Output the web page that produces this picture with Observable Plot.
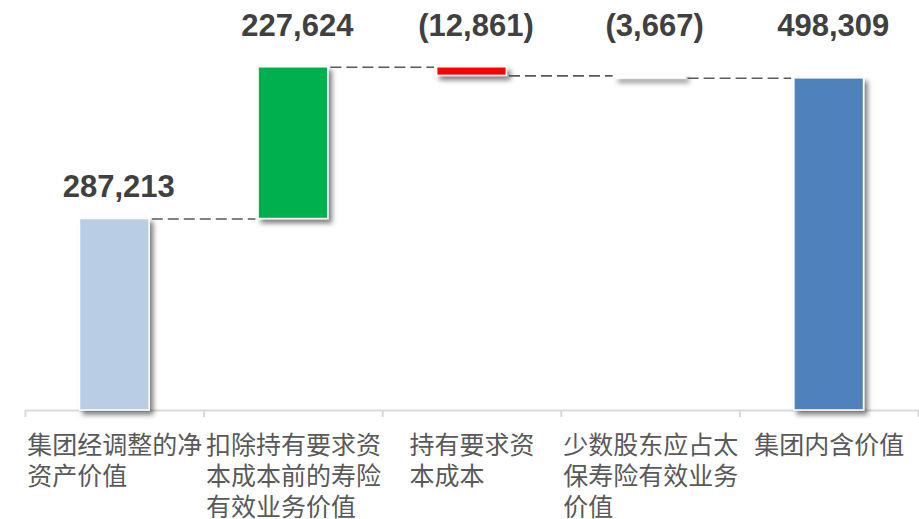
<!DOCTYPE html>
<html><head><meta charset="utf-8">
<script src="https://cdn.jsdelivr.net/npm/d3@7"></script>
<script src="https://cdn.jsdelivr.net/npm/@observablehq/plot@0.6"></script>
<style>body{margin:0;background:#fff;overflow:hidden;}</style>
</head><body><div id="chart"></div>
<script>
// ---- data ----
const categories = ["集团经调整的净资产价值", "扣除持有要求资本成本前的寿险有效业务价值", "持有要求资本成本", "少数股东应占太保寿险有效业务价值", "集团内含价值"];
const tickLabels = ["集团经调整的净\n资产价值", "扣除持有要求资\n本成本前的寿险\n有效业务价值", "持有要求资\n本成本", "少数股东应占太\n保寿险有效业务\n价值", "集团内含价值"];
const values = [287213, 227624, -12861, -3667, 498309];
const kinds = ["total", "delta", "delta", "delta", "total"];
const valueLabels = ["287,213", "227,624", "(12,861)", "(3,667)", "498,309"];

// ---- styles ----
const palette = ["#B9CDE5", "#00B050", "#FF0000", "#FFFFFF", "#4F81BD"];
const halfBar = 0.195;
const cjkSize = 25;

// ---- build waterfall table ----
let running = 0;
const rows = categories.map((c, i) => {
  let y1, y2;
  if (kinds[i] === "total") { y1 = 0; y2 = values[i]; running = values[i]; }
  else { y1 = running; y2 = running + values[i]; running = y2; }
  return {i, cat: c, y1, y2, top: Math.max(y1, y2), end: running, label: valueLabels[i], tick: tickLabels[i]};
});
const links = rows.slice(0, -1).map(r => ({x1: r.i + halfBar + 0.015, x2: r.i + 1 - halfBar - 0.015, y: r.end}));
const bounds = d3.range(categories.length + 1).map(k => k - 0.5);
const lineLen = t => d3.max(t.split("\n"), s => s.length);
const bandPx = 893.4 / 5;

const svg = Plot.plot({
  width: 919,
  height: 519,
  marginTop: 0,
  marginBottom: 109,
  marginLeft: 25,
  marginRight: 1,
  x: {type: "linear", domain: [-0.5, 4.5], axis: null},
  y: {domain: [0, 615000], axis: null},
  color: {domain: categories, range: palette},
  style: {background: "white"},
  marks: [
    Plot.ruleY([0], {stroke: "#d9d9d9", strokeWidth: 2}),
    Plot.ruleX(bounds, {x: d => d, y1: 0, y2: -10500, stroke: "#d9d9d9", strokeWidth: 2}),
    Plot.rect(rows, {x1: d => d.i - halfBar, x2: d => d.i + halfBar, y1: "y1", y2: "y2", fill: "cat", stroke: "white", strokeWidth: 1.5}),
    Plot.ruleY(links, {x1: "x1", x2: "x2", y: "y", stroke: "#595959", strokeWidth: 1.6, strokeDasharray: "11,5"}),
    Plot.text(rows, {x: "i", y: d => d.top > 400000 ? 562000 : d.top + 33000, text: "label", dx: 4, lineAnchor: "bottom", fontFamily: "Liberation Sans, Arial, sans-serif", fontWeight: "bold", fontSize: 31, fill: "#404040"}),
    Plot.text(rows, {x: d => d.i - (lineLen(d.tick) * cjkSize / 2) / bandPx, y: 0, text: "tick", textAnchor: "start", lineAnchor: "top", dy: 21, lineHeight: 1.24, fontFamily: "Noto Sans CJK SC, sans-serif", fontSize: cjkSize, fill: "#595959"})
  ]
});

const defs = d3.select(svg).insert("defs", ":first-child");
const f = defs.append("filter").attr("id", "shadow").attr("x", "-10%").attr("y", "-10%").attr("width", "130%").attr("height", "130%");
f.append("feDropShadow").attr("dx", 3.5).attr("dy", 4).attr("stdDeviation", 2.5).attr("flood-color", "#000").attr("flood-opacity", 0.5);
d3.select(svg).selectAll('g[aria-label="rect"]').attr("filter", "url(#shadow)");

document.getElementById("chart").appendChild(svg);
</script></body></html>
